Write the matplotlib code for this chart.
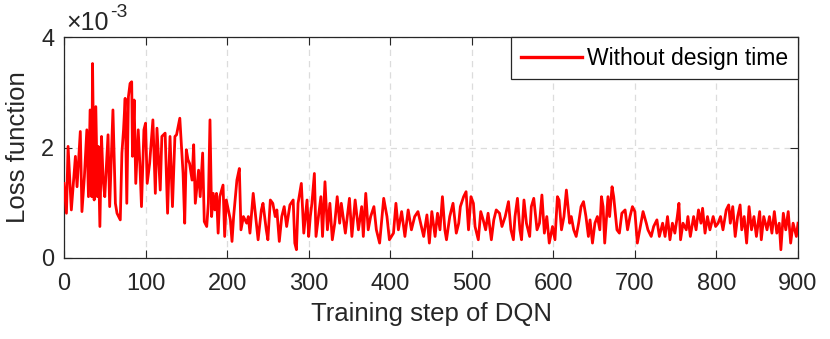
import matplotlib
matplotlib.use('Agg')
import matplotlib.pyplot as plt
import numpy as np

plt.rcParams['font.family'] = ['Liberation Sans', 'DejaVu Sans']

# DATA  (loss values in units of 1e-3)
steps = [0, 3, 5, 9, 14, 16, 20, 22, 25, 28, 30, 32, 34, 35, 37, 39, 41, 42, 44, 46, 48, 50, 54, 56, 60,
         62, 63, 65, 69, 71, 73, 75, 77, 79, 81, 83, 84, 86, 88, 91, 93, 95, 98,
         100, 102, 105, 109, 112, 114, 118, 120, 124, 127, 130, 133, 136, 138, 142, 146, 148, 150, 152,
         154, 157, 159, 161, 165, 167, 170, 172, 175, 177, 179, 181, 183, 185, 187, 189, 191, 195, 197, 199,
         204, 206, 208, 212, 215, 217, 220, 224, 226, 228, 232, 235, 238, 242, 244, 248, 250, 253, 256, 259,
         261, 264, 267, 270, 273, 277, 281, 283, 285, 287, 291, 294, 298,
         300, 302, 304, 307, 309, 312, 315, 317, 320, 323, 326, 329, 332, 335, 338, 340, 345, 350, 353, 357,
         361, 365, 367, 370, 373, 376, 380, 383, 387, 390, 392, 396, 399,
         404, 407, 410, 414, 418, 422, 426, 430, 434, 441, 445, 448, 451, 455, 458, 461, 464, 467, 469, 473,
         477, 481, 484, 486, 490, 493, 496, 499,
         502, 504, 508, 511, 514, 517, 520, 524, 527, 530, 534, 537, 541, 545, 548, 551, 553, 556, 559, 561,
         564, 567, 571, 573, 576, 580, 583, 586, 589, 592, 595, 599,
         602, 605, 607, 610, 613, 616, 620, 622, 625, 628, 631, 634, 637, 640, 643, 645, 648, 651, 654, 657,
         659, 661, 663, 667, 669, 672, 674, 678, 681, 684, 688, 691, 694, 697,
         700, 703, 706, 710, 714, 716, 720, 723, 727, 730, 734, 737, 740, 743, 746, 749, 752, 754, 756, 759,
         763, 765, 768, 772, 775, 778, 781, 783, 786, 789, 792, 796, 799,
         802, 805, 808, 812, 815, 817, 820, 823, 826, 829, 831, 834, 837, 840, 843, 846, 849, 853, 855, 858,
         862, 865, 868, 871, 874, 877, 879, 882, 885, 888, 891, 894, 898, 900]
loss_e3 = [1.35, 0.81, 2.02, 0.87, 1.84, 1.29, 2.29, 0.84, 1.47, 2.32, 1.11, 2.68, 1.11, 3.52, 1.05, 2.74, 1.11, 2.02, 0.57, 2.20, 1.41, 1.11, 2.23, 0.93, 2.68,
           1.53, 0.99, 0.81, 0.69, 1.90, 2.32, 2.89, 0.99, 2.92, 3.16, 3.19, 1.84, 2.86, 1.35, 2.32, 1.71, 0.93, 2.32,
           2.44, 1.35, 1.71, 2.50, 1.17, 2.35, 1.23, 2.20, 2.26, 0.81, 2.20, 0.93, 2.20, 2.23, 2.53, 1.53, 0.63, 1.96, 1.78,
           1.71, 1.41, 2.05, 0.99, 1.59, 1.11, 1.90, 0.66, 0.57, 0.99, 2.50, 0.75, 1.17, 0.87, 1.17, 0.45, 1.11, 1.32, 0.39, 1.05,
           0.69, 0.30, 0.75, 1.41, 1.62, 0.51, 0.75, 0.63, 0.75, 0.45, 1.17, 0.75, 0.33, 0.87, 0.99, 0.51, 0.33, 1.05, 0.99, 0.75,
           0.87, 0.30, 0.75, 0.93, 0.57, 0.96, 1.05, 0.27, 0.15, 0.99, 1.35, 0.45, 1.05,
           0.39, 0.75, 0.99, 1.53, 0.39, 0.75, 1.11, 0.39, 1.38, 0.51, 0.99, 0.33, 0.63, 1.11, 0.63, 0.99, 0.45, 1.08, 0.39, 1.05,
           0.51, 0.93, 0.39, 1.17, 0.51, 0.75, 0.93, 0.51, 0.27, 0.75, 1.08, 0.75, 0.33,
           0.45, 0.99, 0.51, 0.84, 0.39, 0.87, 0.51, 0.75, 0.84, 0.39, 0.78, 0.27, 0.84, 0.39, 0.81, 0.51, 1.11, 0.51, 0.33, 0.75,
           0.99, 0.45, 0.63, 0.93, 1.11, 1.20, 0.51, 1.11,
           0.99, 0.57, 0.33, 0.84, 0.69, 0.51, 0.81, 0.33, 0.69, 0.87, 0.81, 0.57, 0.75, 1.02, 0.51, 0.33, 0.75, 1.08, 0.51, 0.33,
           1.05, 0.63, 0.39, 0.93, 1.08, 0.51, 0.63, 1.14, 0.45, 0.75, 0.27, 0.57,
           0.33, 1.11, 1.05, 0.51, 0.75, 1.23, 0.63, 0.75, 0.51, 0.39, 0.63, 0.93, 1.02, 0.75, 0.39, 0.69, 0.27, 0.63, 0.75, 0.51,
           1.11, 0.93, 0.27, 1.11, 0.75, 1.29, 1.11, 0.51, 0.45, 0.81, 0.87, 0.51, 0.75, 0.93,
           0.84, 0.27, 0.51, 0.84, 0.63, 0.51, 0.39, 0.57, 0.69, 0.39, 0.63, 0.39, 0.75, 0.33, 0.63, 0.45, 0.75, 0.99, 0.33, 0.63,
           0.51, 0.75, 0.39, 0.75, 0.51, 0.87, 0.63, 0.90, 0.45, 0.75, 0.51, 0.75, 0.57,
           0.63, 0.75, 0.51, 0.87, 0.96, 0.63, 0.93, 0.39, 0.75, 0.96, 0.51, 0.75, 0.27, 0.93, 0.51, 0.75, 0.39, 0.84, 0.33, 0.75,
           0.51, 0.75, 0.45, 0.84, 0.45, 0.63, 0.15, 0.81, 0.51, 0.84, 0.27, 0.63, 0.39, 0.63]
xticks = [0, 100, 200, 300, 400, 500, 600, 700, 800, 900]
yticks = [0, 2, 4]

# FIGURE
fig = plt.figure(figsize=(8.3, 3.39), dpi=100)
ax = fig.add_axes([64/830, 1-258/339, 734/830, 221/339])

ax.plot(steps, loss_e3, color='#FF0000', lw=2.0, label='Without design time', zorder=3)

ax.set_xlim(0, 900)
ax.set_ylim(0, 4)
ax.set_xticks(xticks)
ax.set_yticks(yticks)
ax.grid(True, color='#dcdcdc', linestyle=(0, (5, 4)), linewidth=0.9, zorder=0)

for s in ax.spines.values():
    s.set_color('#262626')
    s.set_linewidth(0.9)
ax.tick_params(direction='in', top=True, right=True, length=5.5, width=0.8,
               colors='#262626', labelsize=17)
ax.tick_params(axis='x', pad=11)
ax.tick_params(axis='y', pad=7)

ax.set_xlabel('Training step of DQN', fontsize=18.5, color='#262626', labelpad=5)
ax.set_ylabel('Loss function', fontsize=18.5, color='#262626', labelpad=8)

# exponent label, MATLAB style
fig.text(66/830, 1-30/339, '\u00d710', fontsize=18, color='#262626', ha='left', va='baseline')
fig.text(110/830, 1-17/339, '-3', fontsize=14, color='#262626', ha='left', va='baseline')

leg = ax.legend(loc='upper right', bbox_to_anchor=(1, 1), borderaxespad=0, fontsize=16.5,
                fancybox=False, framealpha=1, edgecolor='#262626', handlelength=2.65,
                handletextpad=0.25, borderpad=0.42)
leg.get_frame().set_linewidth(0.9)
leg.get_lines()[0].set_linewidth(2.4)

fig.savefig('out.png', dpi=100)
